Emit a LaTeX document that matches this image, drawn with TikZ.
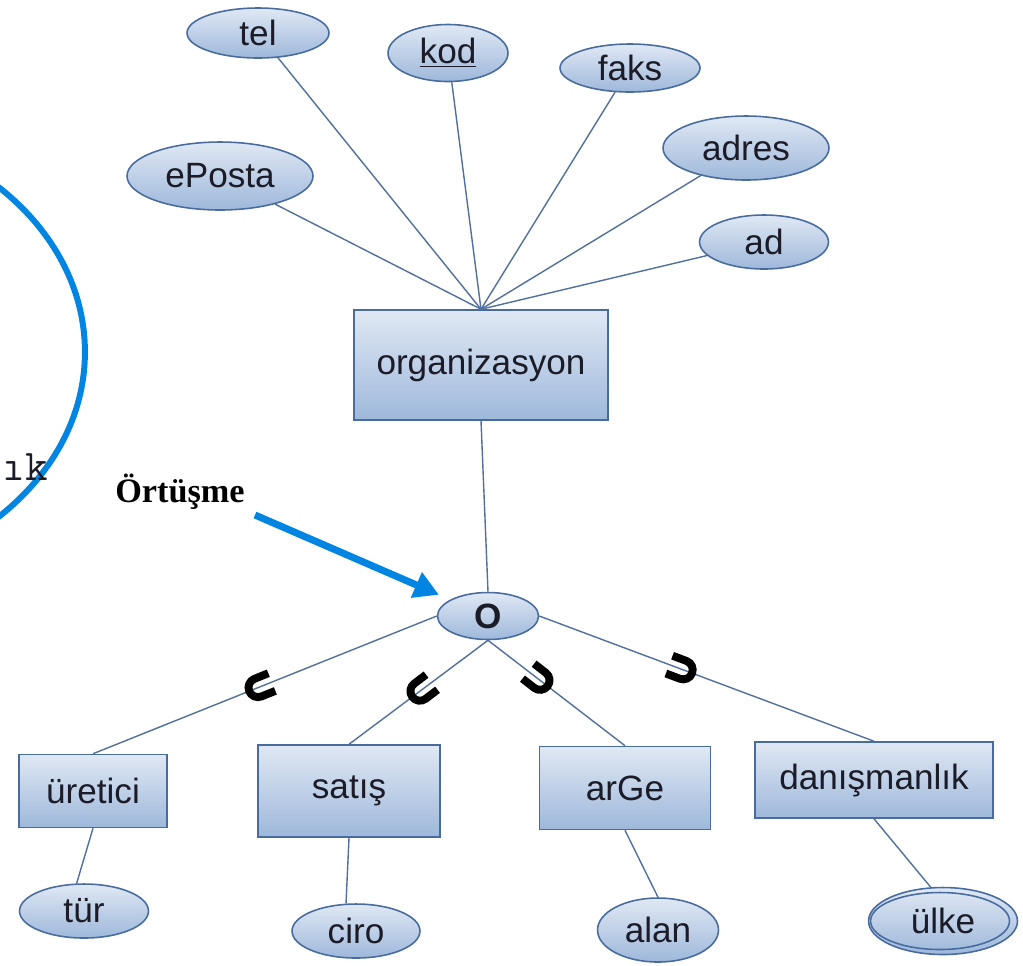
\documentclass[tikz,border=0pt]{standalone}
\usepackage{fontspec}
\setmainfont{Liberation Sans}
\newfontfamily\labelserif{Liberation Serif}
\usepackage{tikz}
\usetikzlibrary{shapes.geometric,arrows.meta,calc}
\definecolor{shapetop}{RGB}{224,232,244}
\definecolor{shapebot}{RGB}{158,184,219}
\definecolor{shapeline}{RGB}{72,108,160}
\definecolor{linkblue}{RGB}{82,112,158}
\definecolor{ortblue}{RGB}{0,134,226}
\definecolor{textdark}{RGB}{28,28,40}

\begin{document}
\begin{tikzpicture}[x=0.02cm,y=-0.02cm,
    every node/.style={inner sep=0pt,text=textdark,font=\fontsize{20}{24}\selectfont},
    attr/.style={ellipse,draw=shapeline,line width=0.9pt,top color=shapetop,bottom color=shapebot},
    entity/.style={rectangle,draw=shapeline,line width=0.9pt,top color=shapetop,bottom color=shapebot},
    link/.style={draw=linkblue,line width=0.8pt},
    subsetmark/.style={draw=black,line width=4.5pt},
    ortarrow/.style={draw=ortblue,line width=4pt,-{Triangle[length=14pt,width=15pt]}}]
        \useasboundingbox (0,0) rectangle (1023,965);
        % left arc, cut by the page edge
        \begin{scope}
            \clip (0,0) rectangle (1023,965);
            \draw[ortblue,line width=3.4pt] (-200,352) ellipse [x radius=5.7cm,y radius=4.6cm];
        \end{scope}
        \node[anchor=base east,font=\ttfamily\fontsize{25}{28}\selectfont] (lik) at (48,480) {ık};
        % entities
        \node[entity,minimum width=5.08cm,minimum height=2.2cm] (org) at (481,365) {organizasyon};
        \node[attr,minimum width=2.02cm,minimum height=0.94cm] (O) at (488,616) {\textbf{O}};
        \node[entity,minimum width=2.96cm,minimum height=1.46cm] (uretici) at (93,791) {üretici};
        \node[entity,minimum width=3.64cm,minimum height=1.84cm] (satis) at (349,791) {satış};
        \node[entity,minimum width=3.42cm,minimum height=1.66cm] (arge) at (625,788) {arGe};
        \node[entity,minimum width=4.76cm,minimum height=1.52cm] (danis) at (874,780) {danışmanlık};
        % attributes
        \node[attr,minimum width=2.84cm,minimum height=1.0cm] (tel) at (258,33) {tel};
        \node[attr,minimum width=2.4cm,minimum height=1.14cm] (kod) at (448,53) {\underline{kod}};
        \node[attr,minimum width=2.8cm,minimum height=0.96cm] (faks) at (630,68) {faks};
        \node[attr,minimum width=3.32cm,minimum height=1.28cm] (adres) at (746,148) {adres};
        \node[attr,minimum width=3.72cm,minimum height=1.36cm] (eposta) at (220,176) {ePosta};
        \node[attr,minimum width=2.58cm,minimum height=1.08cm] (ad) at (764,242) {ad};
        \node[attr,minimum width=2.58cm,minimum height=1.08cm] (tur) at (84,911) {tür};
        \node[attr,minimum width=2.56cm,minimum height=1.08cm] (ciro) at (356,931) {ciro};
        \node[attr,minimum width=2.42cm,minimum height=1.28cm] (alan) at (658,930) {alan};
        \node[attr,minimum width=2.98cm,minimum height=1.34cm] (ulke) at (943,921) {ülke};
        \draw[shapeline,line width=0.9pt] ($(ulke.center)+(-3,0)$) ellipse [x radius=1.39cm,y radius=0.57cm];
        % links
        \foreach \a in {tel,kod,faks,adres,eposta,ad}
            \draw[link] (\a) -- (org.north);
        \draw[link] (org.south) -- (O.north);
        \draw[link] (O.west) -- (uretici.north);
        \draw[link] (O.south) -- (satis.north);
        \draw[link] (O.south) -- (arge.north);
        \draw[link] (O.east) -- (danis.north);
        \draw[link] (uretici.south) -- (tur.105);
        \draw[link] (satis.south) -- (ciro.110);
        \draw[link] (arge.south) -- (alan.north);
        \draw[link] (danis.south) -- (ulke.110);
        % subset marks
        \draw[subsetmark,shift={($(O.west)!0.52!(uretici.north)$)},rotate=-68.1] (-5.4pt,8.5pt) -- (-5.4pt,0pt) arc (180:360:5.4pt) -- (5.4pt,8.5pt);
        \draw[subsetmark,shift={($(O.south)!0.49!(satis.north)$)},rotate=-52.8] (-5.4pt,8.5pt) -- (-5.4pt,0pt) arc (180:360:5.4pt) -- (5.4pt,8.5pt);
        \draw[subsetmark,shift={($(O.south)!0.38!(arge.north)$)},rotate=52] (-5.4pt,8.5pt) -- (-5.4pt,0pt) arc (180:360:5.4pt) -- (5.4pt,8.5pt);
        \draw[subsetmark,shift={($(O.east)!0.43!(danis.north)$)},rotate=69.4] (-5.4pt,8.5pt) -- (-5.4pt,0pt) arc (180:360:5.4pt) -- (5.4pt,8.5pt);
        % overlap label
        \node[font=\labelserif\bfseries\fontsize{19.5}{23}\selectfont,text=black] (ortusme) at (180,492) {Örtüşme};
        \coordinate (ortTail) at (255,515);
        \draw[ortarrow,shorten >=7pt] (ortTail) -- (O);
\end{tikzpicture}
\end{document}
